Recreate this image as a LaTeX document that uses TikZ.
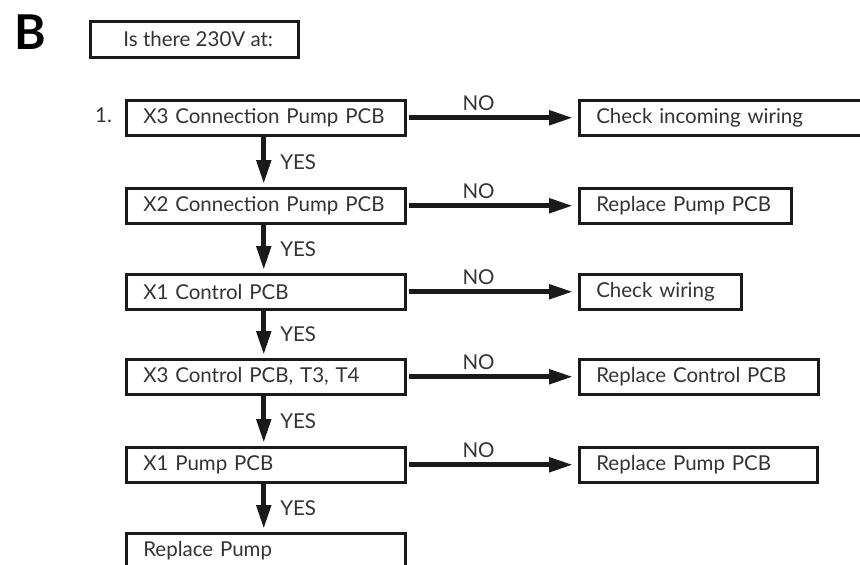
\documentclass[tikz,border=0pt]{standalone}
\usepackage{fontspec}
\setmainfont{Lato}
\usetikzlibrary{arrows.meta}
\definecolor{txt}{HTML}{333333}
\definecolor{ln}{HTML}{1A1A1A}
\tikzset{
  box/.style={draw=ln, line width=2.5pt, inner xsep=17pt, inner ysep=0pt, align=left,
    anchor=north west, minimum height=35pt, text=txt, font=\fontsize{20.5}{24}\selectfont},
  flow/.style={draw=ln, line width=5pt, -{Triangle[length=24pt,width=14pt]}},
  lbl/.style={text=txt, font=\fontsize{20.5}{24}\selectfont, inner sep=0pt}
}
\begin{document}
\begin{tikzpicture}[x=1pt,y=-1pt]
\useasboundingbox (0,0) rectangle (860,565);
\clip (0,0) rectangle (860,565);
\node[anchor=base west, inner sep=0pt, font=\fontsize{48}{50}\selectfont\bfseries, text=black] (B) at (14,49) {B};
\node[box, align=center, inner xsep=0pt, minimum width=208pt, minimum height=36pt] (top) at (89,20) {\hspace*{8pt}Is there 230V at:};
\node[lbl, anchor=west] (n1) at (95,115) {1.};
% left column
\node[box, text width=245pt] (l1) at (125,99) {\mbox{X3 Connection Pump PCB}};
\node[box, text width=245pt] (l2) at (125,187) {\mbox{X2 Connection Pump PCB}};
\node[box, text width=245pt] (l3) at (125,273) {\mbox{X1 Control PCB}};
\node[box, text width=245pt] (l4) at (125,358) {\mbox{X3 Control PCB, T3, T4}};
\node[box, text width=245pt] (l5) at (125,446) {\mbox{X1 Pump PCB}};
\node[box, text width=245pt] (l6) at (125,532) {\mbox{Replace Pump}};
% right column
\node[box, text width=266pt] (r1) at (578,99) {\mbox{Check incoming wiring}};
\node[box, text width=178pt] (r2) at (578,187) {\mbox{Replace Pump PCB}};
\node[box, text width=128pt] (r3) at (578,273) {\mbox{Check wiring}};
\node[box, text width=205pt] (r4) at (578,358) {\mbox{Replace Control PCB}};
\node[box, text width=204pt] (r5) at (578,446) {\mbox{Replace Pump PCB}};
% NO arrows
\foreach \i in {1,...,5}{
  \draw[flow, shorten <=2pt, shorten >=5pt] (l\i.east) -- node[lbl, above=5pt, pos=0.42] {NO} (r\i.west);
}
% YES arrows
\foreach \i/\j in {1/2,2/3,3/4,4/5,5/6}{
  \draw[flow, shorten >=3pt] ([xshift=-2pt]l\i.south) -- node[lbl, anchor=west, xshift=14pt] {YES} ([xshift=-2pt]l\j.north);
}
\end{tikzpicture}
\end{document}
